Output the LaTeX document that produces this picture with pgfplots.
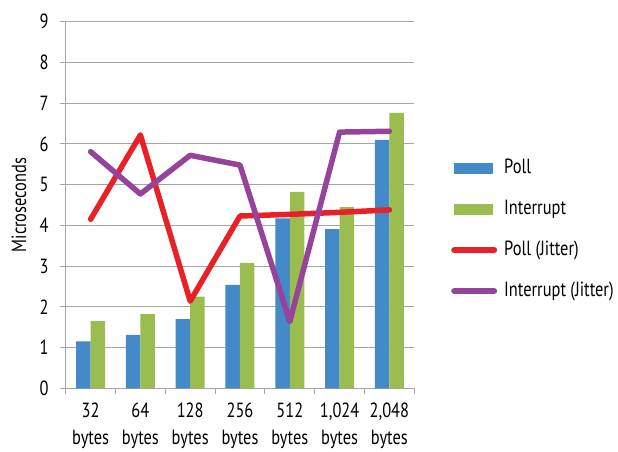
\documentclass[border=0pt]{standalone}
\usepackage{fontspec}
\setmainfont{PT Sans}[FakeStretch=0.8]
\usepackage{pgfplots}
\pgfplotsset{compat=1.18}
\definecolor{cPoll}{RGB}{68,137,200}
\definecolor{cInt}{RGB}{155,189,80}
\definecolor{cPJ}{RGB}{234,32,40}
\definecolor{cIJ}{RGB}{150,68,155}
\definecolor{gridc}{RGB}{165,165,165}
\newcommand{\lblfont}{\fontsize{20.5}{27}\selectfont}
\begin{document}
\begin{tikzpicture}[x=1pt,y=1pt]
\useasboundingbox (0,0) rectangle (618,451);
\begin{axis}[
  at={(65.7pt,62.7pt)}, anchor=south west,
  scale only axis, width=348.6pt, height=366.6pt,
  xmin=-0.5, xmax=6.5, ymin=0, ymax=9,
  ytick={0,...,9},
  axis x line*=bottom, axis y line*=left,
  ymajorgrids, grid style={gridc, line width=1pt},
  axis line style={gridc, line width=1pt},
  tick align=outside, major tick length=6pt,
  tick style={gridc, line width=1pt},
  xtick={-0.5,0.5,...,6.5}, xticklabels={},
  extra x ticks={0,1,2,3,4,5,6},
  extra x tick labels={32\\bytes,64\\bytes,128\\bytes,256\\bytes,512\\bytes,{1,024}\\bytes,{2,048}\\bytes},
  extra x tick style={major tick length=0pt},
  xticklabel style={align=center, font=\lblfont, inner sep=0pt, yshift=-14pt},
  yticklabel style={font=\lblfont, inner sep=0pt, xshift=-11pt},
  /pgf/number format/assume math mode=true,
  ylabel={Microseconds},
  every axis y label/.style={at={(axis description cs:-0.134,0.5)}, rotate=90, anchor=center, font=\lblfont},
  legend style={at={(axis description cs:1,0.433)}, anchor=west, xshift=36.7pt,
    draw=none, fill=none, inner sep=0pt, row sep=23pt, column sep=7pt,
    font=\lblfont, nodes={inner sep=0pt, text height=14pt, text depth=4pt}},
  legend cell align=left,
]
\addplot[ybar, bar width=14.5pt, bar shift=-7.25pt, fill=cPoll, draw=none,
  legend image code/.code={\fill[cPoll] (0pt,-5.5pt) rectangle (39pt,5.5pt);}]
  coordinates {(0,1.15) (1,1.31) (2,1.70) (3,2.54) (4,4.17) (5,3.91) (6,6.10)};
\addlegendentry{Poll}
\addplot[ybar, bar width=14.5pt, bar shift=7.25pt, fill=cInt, draw=none,
  legend image code/.code={\fill[cInt] (0pt,-5.5pt) rectangle (39pt,5.5pt);}]
  coordinates {(0,1.65) (1,1.82) (2,2.25) (3,3.08) (4,4.82) (5,4.45) (6,6.76)};
\addlegendentry{Interrupt}
\addplot[cPJ, line width=5.5pt, line cap=round, line join=round, mark=none,
  legend image code/.code={\draw[cPJ, line width=6.5pt, line cap=round] (0.5pt,0pt) -- (40pt,0pt);}]
  coordinates {(0,4.15) (1,6.22) (2,2.14) (3,4.23) (4,4.27) (5,4.32) (6,4.38)};
\addlegendentry{Poll (Jitter)}
\addplot[cIJ, line width=5.5pt, line cap=round, line join=round, mark=none,
  legend image code/.code={\draw[cIJ, line width=6.5pt, line cap=round] (0.5pt,0pt) -- (40pt,0pt);}]
  coordinates {(0,5.81) (1,4.77) (2,5.72) (3,5.48) (4,1.64) (5,6.29) (6,6.31)};
\addlegendentry{Interrupt (Jitter)}
\end{axis}
\end{tikzpicture}
\end{document}
